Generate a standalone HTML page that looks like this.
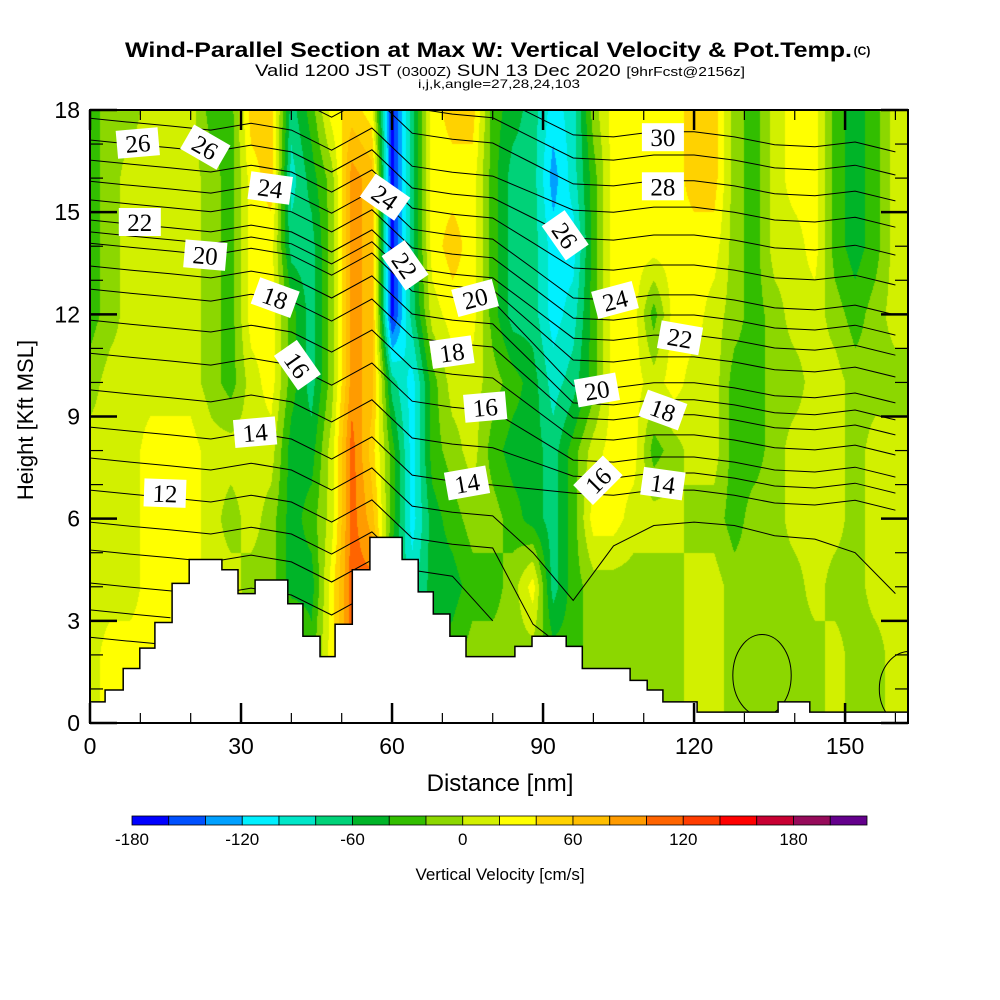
<!DOCTYPE html>
<html><head><meta charset="utf-8"><style>
body{margin:0;background:#fff;}
#wrap{position:relative;width:1000px;height:1000px;overflow:hidden;background:#fff;font-family:"Liberation Sans",sans-serif;}
#field{position:absolute;left:90px;top:110px;}
#ov{position:absolute;left:0;top:0;}
</style></head><body>
<div id="wrap">
<canvas id="field" width="818" height="613"></canvas>
<svg id="ov" width="1000" height="1000" xmlns="http://www.w3.org/2000/svg">
<defs><clipPath id="pc"><rect x="90" y="110" width="818" height="613"/></clipPath></defs>
<text x="125" y="57" textLength="727" lengthAdjust="spacingAndGlyphs" font-size="21" font-weight="bold">Wind-Parallel Section at Max W: Vertical Velocity &amp; Pot.Temp.</text>
<text x="862" y="55" text-anchor="middle" font-size="12" font-weight="bold">(C)</text>
<text x="255" y="76" textLength="490" lengthAdjust="spacingAndGlyphs" font-size="17">Valid 1200 JST <tspan font-size="13">(0300Z)</tspan> SUN 13 Dec 2020 <tspan font-size="13">[9hrFcst@2156z]</tspan></text>
<text x="418" y="88" textLength="162" lengthAdjust="spacingAndGlyphs" font-size="12">i,j,k,angle=27,28,24,103</text>
<g id="cont" clip-path="url(#pc)"></g>
<g id="terr"></g>
<g id="labs"></g>
<g id="axes"></g>
<text x="500" y="791" text-anchor="middle" font-size="24">Distance [nm]</text>
<text transform="translate(33,420) rotate(-90)" text-anchor="middle" font-size="22">Height [Kft MSL]</text>
<g id="cbar"></g>
<text x="500" y="880" text-anchor="middle" font-size="17">Vertical Velocity [cm/s]</text>
</svg>
</div>
<script>
// ---- vertical velocity grid (cm/s): columns every 4 nm, rows every 2 kft ----
const gridDist = [0,4,8,12,16,20,24,28,32,36,40,44,48,52,56,60,64,68,72,76,80,84,88,92,96,100,104,108,112,116,120,124,128,132,136,140,144,148,152,156,160];
const gridHeights = [0,2,4,6,8,10,12,14,16,18];
const w0  = [10,30,30,30,30,30,10,10,10,10,10,-30,30,110,50,-30,-70,-50,-30,-10,-10,-10,-10,-30,-30,-10,-10,-10,-10,-10,10,10,-10,-10,-10,-10,-10,10,-10,-10,10];
const w2  = [10,30,30,30,30,30,10,10,10,10,10,-30,30,110,50,-30,-70,-50,-30,-10,-10,-10,-10,-30,-30,-10,-10,-10,-10,-10,10,10,-10,-10,-10,-10,-10,10,-10,-10,10];
const w4  = [10,10,10,30,30,30,10,10,-10,-10,-50,-50,30,110,110,-50,-90,-50,-50,-30,-30,-10,30,-70,-30,-10,-10,-10,-10,-10,10,10,-10,-10,-10,-10,10,-10,-10,10,10];
const w6  = [10,10,10,30,30,30,10,-10,10,-10,-50,-30,10,110,70,-30,-110,-50,-30,-10,-10,-30,-50,-70,-30,30,30,10,10,10,-10,-10,-30,-10,-10,10,10,10,-10,10,10];
const w8  = [10,10,10,30,30,30,10,10,10,10,-50,-50,10,110,50,-30,-110,-30,-10,10,-30,-50,-50,-70,-30,10,30,30,-30,-10,10,10,-30,-30,-10,10,10,10,-10,10,10];
const w10 = [-10,10,10,10,10,10,-10,-30,10,30,-30,-70,-10,90,70,-70,-110,-30,10,10,-10,-30,-50,-90,-70,-30,30,30,10,30,10,10,-30,-30,-10,-10,10,10,-10,-10,-10];
const w12 = [-30,-10,10,10,10,10,-10,-30,30,30,-30,-70,-10,90,70,-170,-70,10,30,30,-30,-70,-70,-110,-90,-30,30,30,-30,30,30,10,-10,-30,-10,10,10,-10,-30,-10,10];
const w14 = [-30,-10,10,10,10,10,-10,-30,30,30,-70,-70,-10,90,70,-170,-70,30,50,30,-30,-70,-70,-110,-110,-30,30,30,30,30,30,30,-10,-30,10,10,30,-30,-50,-30,10];
const w16 = [-30,-10,10,10,10,10,-10,-30,30,50,-90,-50,-10,90,70,-170,-70,30,30,30,-30,-70,-70,-130,-90,-30,30,30,30,30,50,50,-10,-30,10,30,30,-30,-50,-30,10];
const w18 = [-30,-10,-10,10,10,10,-30,-30,50,50,-70,-30,30,50,30,-170,-70,30,50,50,-30,-50,-70,-110,-90,-10,30,30,30,30,50,50,-10,-30,10,30,30,-30,-50,-30,10];
const wRows = [w0,w2,w4,w6,w8,w10,w12,w14,w16,w18];

// ---- colour scale ----
const binEdges = [-180,-160,-140,-120,-100,-80,-60,-40,-20,0,20,40,60,80,100,120,140,160,180,200,220];
const binColors = ["#0000ff","#0050ff","#00a0ff","#00f0ff","#00e6c8","#00d278","#00b428","#32be00","#8cd700","#d2f000","#ffff00","#ffd200","#ffbe00","#ff9b00","#ff6400","#ff3c00","#ff0000","#c80032","#960a5a","#64008c"];
const cbarTicks = [-180,-120,-60,0,60,120,180];

// ---- potential temperature contours: heights (kft) at every 8 nm ----
const thetaDist = [0,8,16,24,32,40,48,56,64,72,80,88,96,104,112,120,128,136,144,152,160];
const thetaLevels = [30,29,28,27,26,25,24,23,22,21,20,19,18,17,16,15,14,13,12,11,10,9,8,7];
const th30 = [20.14,20.02,19.91,19.79,19.99,19.79,19.20,19.85,18.73,18.55,18.44,17.86,17.27,17.21,17.36,17.36,17.21,16.98,16.92,17.06,16.77];
const th29 = [19.47,19.35,19.24,19.12,19.32,19.12,18.53,19.18,18.06,17.88,17.77,17.18,16.59,16.53,16.68,16.68,16.53,16.30,16.24,16.38,16.09];
const th28 = [18.73,18.61,18.50,18.38,18.58,18.38,17.79,18.44,17.32,17.14,17.03,16.43,15.83,15.77,15.92,15.92,15.77,15.54,15.48,15.62,15.33];
const th27 = [17.76,17.64,17.53,17.41,17.61,17.41,16.82,17.47,16.35,16.17,16.06,15.56,15.06,15.00,15.15,15.15,15.00,14.77,14.71,14.85,14.56];
const th26 = [17.12,17.00,16.89,16.77,16.97,16.77,16.18,16.83,15.71,15.53,15.42,14.83,14.24,14.18,14.33,14.33,14.18,13.95,13.89,14.03,13.74];
const th25 = [16.53,16.41,16.30,16.18,16.38,16.18,15.59,16.24,15.12,14.94,14.83,14.10,13.36,13.30,13.45,13.45,13.30,13.07,13.01,13.15,12.86];
const th24 = [15.91,15.79,15.68,15.56,15.76,15.56,14.97,15.62,14.50,14.32,14.21,13.35,12.48,12.42,12.57,12.57,12.42,12.19,12.13,12.27,11.98];
const th23 = [15.36,15.24,15.13,15.01,15.21,15.01,14.42,15.07,13.95,13.77,13.66,12.78,11.89,11.83,11.98,11.98,11.83,11.60,11.54,11.68,11.39];
const th22 = [14.77,14.65,14.54,14.42,14.62,14.42,13.83,14.48,13.36,13.18,13.07,12.19,11.30,11.24,11.39,11.39,11.24,11.01,10.95,11.09,10.80];
const th21 = [14.42,14.30,14.19,14.07,14.27,14.07,13.48,14.13,13.01,12.83,12.72,11.69,10.66,10.60,10.75,10.75,10.60,10.37,10.31,10.45,10.16];
const th20 = [14.09,13.97,13.86,13.74,13.94,13.74,13.15,13.80,12.68,12.50,12.39,11.15,9.90,9.84,9.99,9.99,9.84,9.61,9.55,9.69,9.40];
const th19 = [13.42,13.30,13.19,13.07,13.27,13.07,12.48,13.13,12.01,11.83,11.72,10.56,9.40,9.34,9.49,9.49,9.34,9.11,9.05,9.19,8.90];
const th18 = [12.74,12.62,12.51,12.39,12.59,12.39,11.80,12.45,11.33,11.15,11.04,10.00,8.96,8.90,9.05,9.05,8.90,8.67,8.61,8.75,8.46];
const th17 = [11.83,11.71,11.60,11.48,11.68,11.48,10.89,11.54,10.42,10.24,10.13,9.25,8.37,8.31,8.46,8.46,8.31,8.08,8.02,8.16,7.87];
const th16 = [10.86,10.74,10.63,10.51,10.71,10.51,9.92,10.57,9.45,9.27,9.16,8.44,7.72,7.66,7.81,7.81,7.66,7.43,7.37,7.51,7.22];
const th15 = [9.78,9.66,9.55,9.43,9.63,9.43,8.84,9.49,8.37,8.19,8.08,7.67,7.25,7.19,7.34,7.34,7.19,6.96,6.90,7.04,6.75];
const th14 = [8.69,8.57,8.46,8.34,8.54,8.34,7.75,8.40,7.28,7.10,6.99,6.87,6.75,6.69,6.84,6.84,6.69,6.46,6.40,6.54,6.25];
const th13 = [7.78,7.66,7.55,7.43,7.63,7.43,6.84,7.49,6.37,6.19,6.08,5.0,3.6,5.2,5.8,5.9,5.8,5.5,5.4,5.0,3.8];
const th12 = [6.84,6.72,6.61,6.49,6.69,6.49,5.90,6.55,5.43,5.25,5.14,2.9,2.0,null,null,null,null,null,null,null,null];
const th11 = [5.90,5.78,5.67,5.55,5.75,5.55,4.96,5.61,4.49,4.31,3.0,null,null,null,null,null,null,null,null,null,null];
const th10 = [5.08,4.96,4.85,4.73,4.93,4.73,4.14,4.79,null,null,null,null,null,null,null,null,null,null,null,null,null];
const th9  = [4.11,3.99,3.88,3.76,3.96,3.76,3.17,3.82,null,null,null,null,null,null,null,null,null,null,null,null,null];
const th8  = [3.32,3.20,3.09,null,null,null,null,null,null,null,null,null,null,null,null,null,null,null,null,null,null];
const th7  = [2.52,2.40,2.29,null,null,null,null,null,null,null,null,null,null,null,null,null,null,null,null,null,null];
const thetaLines = [th30,th29,th28,th27,th26,th25,th24,th23,th22,th21,th20,th19,th18,th17,th16,th15,th14,th13,th12,th11,th10,th9,th8,th7];
const closedDist = [133.5,162.8];
const closedH = [1.4,1.0];
const closedRx = [5.8,6.0];
const closedRy = [1.2,1.1];

// ---- terrain steps (start distance nm, height kft) ----
const terrDist = [0,3.0,6.6,9.9,12.9,16.3,19.7,26.2,29.4,32.8,39.3,42.3,45.7,48.7,52.1,55.6,62.0,65.2,68.2,71.5,74.7,84.4,87.8,94.6,97.8,107.3,110.7,113.8,120.6,136.7,143.0];
const terrH    = [0.62,0.97,1.6,2.2,2.95,4.1,4.8,4.5,3.8,4.2,3.5,2.55,1.95,2.9,4.5,5.45,4.8,3.85,3.2,2.55,1.95,2.25,2.55,2.25,1.6,1.25,0.97,0.62,0.32,0.62,0.32];

// ---- contour labels: text, dist, kft, rotation ----
const labText = ["26","26","24","24","22","22","20","18","16","14","12","14","16","18","20","26","24","22","20","18","16","14","30","28"];
const labDist = [9.5,22.9,35.8,58.6,62.6,9.9,22.9,36.8,41.2,32.8,14.9,74.9,78.5,71.9,76.5,94.4,104.3,117.2,100.7,113.8,100.9,113.8,113.8,113.8];
const labH    = [17.03,16.91,15.71,15.44,13.44,14.71,13.74,12.49,10.51,8.54,6.75,7.05,9.28,10.89,12.48,14.32,12.42,11.31,9.78,9.19,7.13,7.03,17.20,15.76];
const labRot  = [-5,30,8,35,55,0,5,20,55,-5,2,-10,-5,-8,-15,55,-15,10,-10,20,-45,8,0,0];

const xTicks = [0,30,60,90,120,150];
const yTicks = [0,3,6,9,12,15,18];

const X0=90, X1=908, Y0=723, Y1=110, DMAX=162.5, HMAX=18;
const xs = d => X0 + d*(X1-X0)/DMAX;
const ys = h => Y0 - h*(Y0-Y1)/HMAX;
const NS = "http://www.w3.org/2000/svg";
function mk(tag, attrs, parent){const e=document.createElementNS(NS,tag);for(const k in attrs)e.setAttribute(k,attrs[k]);parent.appendChild(e);return e;}
function hexRGB(c){return [parseInt(c.substr(1,2),16),parseInt(c.substr(3,2),16),parseInt(c.substr(5,2),16)];}

(function(){
  const cv=document.getElementById('field');const ctx=cv.getContext('2d');
  const W=cv.width,H=cv.height;const img=ctx.createImageData(W,H);
  const rgb=binColors.map(hexRGB);
  const nx=gridDist.length, ny=gridHeights.length;
  const dStep=gridDist[1]-gridDist[0], hStep=gridHeights[1]-gridHeights[0];
  for(let j=0;j<H;j++){
    const h=HMAX-(j+0.5)*HMAX/H;
    let gy=(h-gridHeights[0])/hStep;if(gy<0)gy=0;if(gy>ny-1)gy=ny-1;
    const y0=Math.min(Math.floor(gy),ny-2),fy=gy-y0;
    for(let i=0;i<W;i++){
      const d=(i+0.5)*DMAX/W;
      let gx=(d-gridDist[0])/dStep;if(gx<0)gx=0;if(gx>nx-1)gx=nx-1;
      const x0=Math.min(Math.floor(gx),nx-2),fx=gx-x0;
      const a=wRows[y0][x0],b=wRows[y0][x0+1],c=wRows[y0+1][x0],e=wRows[y0+1][x0+1];
      const v=(a*(1-fx)+b*fx)*(1-fy)+(c*(1-fx)+e*fx)*fy;
      let bi=Math.floor((v-binEdges[0])/20);if(bi<0)bi=0;if(bi>19)bi=19;
      const p=(j*W+i)*4;img.data[p]=rgb[bi][0];img.data[p+1]=rgb[bi][1];img.data[p+2]=rgb[bi][2];img.data[p+3]=255;
    }
  }
  ctx.putImageData(img,0,0);
})();

(function(){
  const g=document.getElementById('cont');
  thetaLines.forEach((arr,li)=>{
    let d='',pen=false;
    arr.forEach((h,k)=>{
      if(h===null){pen=false;return;}
      d+=(pen?'L':'M')+xs(thetaDist[k]).toFixed(1)+','+ys(h).toFixed(1);pen=true;
    });
    const p=mk('path',{d:d,fill:'none',stroke:'#000','stroke-width':1},g);
    
    
  });
  closedDist.forEach((cd,k)=>{
    const e=mk('ellipse',{cx:xs(cd),cy:ys(closedH[k]),rx:xs(closedRx[k])-X0,ry:Y0-ys(closedRy[k]),fill:'none',stroke:'#000','stroke-width':1},g);
    
    
  });
})();

(function(){
  const g=document.getElementById('terr');
  let d='M'+xs(0)+','+ys(0);
  terrDist.forEach((sd,k)=>{
    const ed=k<terrDist.length-1?terrDist[k+1]:DMAX;
    d+='L'+xs(sd).toFixed(1)+','+ys(terrH[k]).toFixed(1)+'L'+xs(ed).toFixed(1)+','+ys(terrH[k]).toFixed(1);
  });
  d+='L'+xs(DMAX)+','+ys(0)+'Z';
  const p=mk('path',{d:d,fill:'#fff',stroke:'#000','stroke-width':1.5},g);
  
  
})();

(function(){
  const g=document.getElementById('labs');
  labText.forEach((t,k)=>{
    const gg=mk('g',{transform:'translate('+xs(labDist[k]).toFixed(1)+','+ys(labH[k]).toFixed(1)+') rotate('+labRot[k]+')'},g);
    
    
    mk('rect',{x:-21,y:-14,width:42,height:28,fill:'#fff'},gg);
    const tx=mk('text',{x:0,y:9,'text-anchor':'middle','font-size':25,'font-family':'"Liberation Serif",serif'},gg);
    tx.textContent=t;
  });
})();

(function(){
  const g=document.getElementById('axes');
  const frame=mk('rect',{x:X0,y:Y1,width:X1-X0,height:Y0-Y1,fill:'none',stroke:'#000','stroke-width':2},g);
  
  
  for(let h=0;h<=HMAX;h++){
    const major=h%3===0,L=major?27:13,sw=major?2.5:1.2;
    mk('line',{x1:X0,x2:X0+L,y1:ys(h),y2:ys(h),stroke:'#000','stroke-width':sw},g);
    mk('line',{x1:X1,x2:X1-L,y1:ys(h),y2:ys(h),stroke:'#000','stroke-width':sw},g);
  }
  for(let d=0;d<=160;d+=10){
    const major=d%30===0,L=major?20:10,sw=major?2.5:1.2;
    mk('line',{x1:xs(d),x2:xs(d),y1:Y0,y2:Y0-L,stroke:'#000','stroke-width':sw},g);
    mk('line',{x1:xs(d),x2:xs(d),y1:Y1,y2:Y1+L,stroke:'#000','stroke-width':sw},g);
  }
  yTicks.forEach(v=>{
    const t=mk('text',{x:80,y:ys(v)+8,'text-anchor':'end','font-size':23},g);
    
    
    t.textContent=v;
  });
  xTicks.forEach(v=>{
    const t=mk('text',{x:xs(v),y:754,'text-anchor':'middle','font-size':23},g);
    
    
    t.textContent=v;
  });
})();

(function(){
  const g=document.getElementById('cbar');
  const cx0=132,cx1=867,cy=816,ch=9;
  const cxs=v=>cx0+(v-binEdges[0])*(cx1-cx0)/(binEdges[binEdges.length-1]-binEdges[0]);
  binColors.forEach((c,k)=>{
    const r=mk('rect',{x:cxs(binEdges[k]),y:cy,width:cxs(binEdges[k+1])-cxs(binEdges[k]),height:ch,fill:c,stroke:'#000','stroke-width':0.8},g);
    
    
  });
  cbarTicks.forEach(v=>{
    const t=mk('text',{x:cxs(v),y:845,'text-anchor':'middle','font-size':17},g);
    
    
    t.textContent=v;
  });
})();
</script>
</body></html>
